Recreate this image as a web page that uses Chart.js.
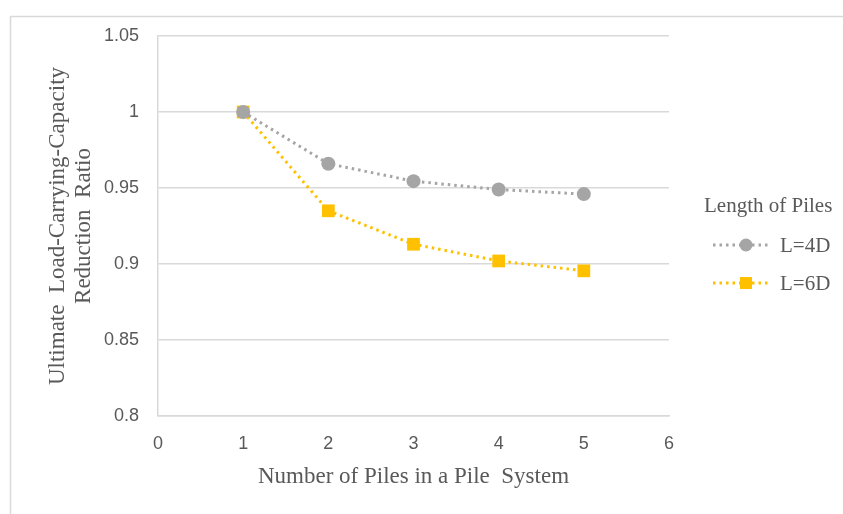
<!DOCTYPE html>
<html>
<head>
<meta charset="utf-8">
<script src="https://cdn.jsdelivr.net/npm/chart.js@4.4.0/dist/chart.umd.min.js"></script>
<style>
  html, body { margin: 0; padding: 0; background: #fff; }
  #wrap { width: 843px; height: 514px; position: relative; }
</style>
</head>
<body>
<div id="wrap"><canvas id="chart" width="843" height="514"></canvas></div>
<script>
// data
const pileCounts = [1, 2, 3, 4, 5];
const ratio4D = [1.0, 0.966, 0.9545, 0.949, 0.946];
const ratio6D = [1.0, 0.935, 0.913, 0.902, 0.8955];
const seriesNames = ['L=4D', 'L=6D'];
const legendTitle = 'Length of Piles';
const xTitle = 'Number of Piles in a Pile  System';
const yTitle = ['Ultimate  Load-Carrying-Capacity', 'Reduction  Ratio'];

const GRAY = '#a5a5a5';
const GOLD = '#ffc000';
const TEXT = '#595959';
const GRID = '#d9d9d9';

const toPoints = ys => pileCounts.map((x, i) => ({ x, y: ys[i] }));

// outer frame + custom legend (line with marker, like Excel)
const decor = {
    id: 'decor',
    beforeDraw(chart) {
        const ctx = chart.ctx;
        ctx.save();
        ctx.strokeStyle = '#d9d9d9';
        ctx.lineWidth = 1.5;
        ctx.strokeRect(10.5, 16.5, 900, 600);
        ctx.restore();
    },
    afterDraw(chart) {
        const ctx = chart.ctx;
        ctx.save();
        ctx.fillStyle = TEXT;
        ctx.font = "21px 'Liberation Serif', serif";
        ctx.textBaseline = 'middle';
        ctx.fillText(legendTitle, 704, 206);

        const rows = [245, 283];
        chart.data.datasets.forEach((ds, i) => {
            const y = rows[i];
            ctx.strokeStyle = ds.borderColor;
            ctx.lineWidth = 3;
            ctx.setLineDash([2.5, 4]);
            ctx.lineCap = 'butt';
            ctx.beginPath();
            ctx.moveTo(713, y);
            ctx.lineTo(771, y);
            ctx.stroke();
            ctx.setLineDash([]);
            ctx.fillStyle = ds.backgroundColor;
            if (ds.pointStyle === 'rect') {
                ctx.fillRect(740, y - 6, 12, 12);
            } else {
                ctx.beginPath();
                ctx.arc(746, y, 6.5, 0, Math.PI * 2);
                ctx.fill();
            }
            ctx.fillStyle = TEXT;
            ctx.font = "21px 'Liberation Serif', serif";
            ctx.fillText(ds.label, 780, y + 1);
        });
        ctx.restore();
    }
};

new Chart(document.getElementById('chart'), {
    type: 'line',
    data: {
        datasets: [
            {
                label: seriesNames[0],
                data: toPoints(ratio4D),
                borderColor: GRAY,
                backgroundColor: GRAY,
                borderWidth: 3,
                borderDash: [2.5, 4],
                pointStyle: 'circle',
                pointRadius: 7,
                pointHoverRadius: 7,
                pointBorderWidth: 0,
                tension: 0
            },
            {
                label: seriesNames[1],
                data: toPoints(ratio6D),
                borderColor: GOLD,
                backgroundColor: GOLD,
                borderWidth: 3,
                borderDash: [2.5, 4],
                pointStyle: 'rect',
                pointRadius: 9,
                pointHoverRadius: 9,
                pointBorderWidth: 0,
                tension: 0
            }
        ]
    },
    options: {
        responsive: false,
        animation: false,
        layout: {
            padding: { top: 36, right: 174, bottom: 0, left: 0 }
        },
        plugins: {
            legend: { display: false },
            tooltip: { enabled: false }
        },
        scales: {
            x: {
                type: 'linear',
                min: 0,
                max: 6,
                afterFit: s => { s.height = 98; },
                ticks: {
                    stepSize: 1,
                    color: TEXT,
                    padding: 17,
                    font: { size: 18, family: "'Liberation Sans', sans-serif" }
                },
                grid: { display: false, drawTicks: false },
                border: { display: true, color: GRID, width: 1.5 },
                title: {
                    display: true,
                    text: xTitle,
                    color: TEXT,
                    padding: { top: 0, bottom: 23 },
                    font: { size: 23, family: "'Liberation Serif', serif" }
                }
            },
            y: {
                min: 0.8,
                max: 1.05,
                afterFit: s => { s.width = 158; },
                ticks: {
                    stepSize: 0.05,
                    color: TEXT,
                    padding: 19,
                    font: { size: 18, family: "'Liberation Sans', sans-serif" },
                    callback: v => String(+v.toFixed(2))
                },
                grid: { color: GRID, lineWidth: 1.5, drawTicks: false },
                border: { display: true, color: GRID, width: 1.5 },
                title: {
                    display: true,
                    text: yTitle,
                    color: TEXT,
                    padding: { top: 45, bottom: 0 },
                    font: { size: 23, family: "'Liberation Serif', serif", lineHeight: '26px' }
                }
            }
        }
    },
    plugins: [decor]
});
</script>
</body>
</html>
